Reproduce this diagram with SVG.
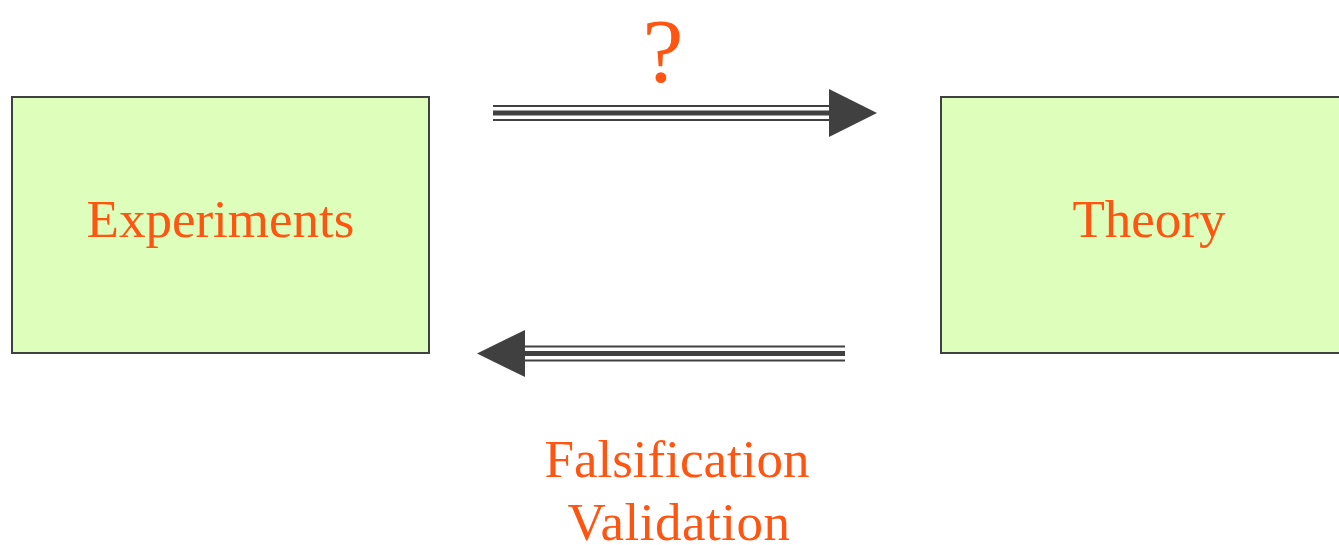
<svg xmlns="http://www.w3.org/2000/svg" width="1339" height="545" viewBox="0 0 1339 545">
<style>
.box{fill:#ddffbb;stroke:#404040;stroke-width:2}
.lbl{font-family:"Liberation Serif","Times New Roman",serif;font-size:53px;fill:#ff5511;text-anchor:middle}
.ln{stroke:#404040;fill:none}
.head{fill:#404040}
</style>
<rect width="1339" height="545" fill="#ffffff"/>
<g id="experiments">
<rect class="box" x="12" y="97" width="417" height="256"/>
<text class="lbl" x="220.5" y="237">Experiments</text>
</g>
<g id="theory">
<rect class="box" x="941" y="97" width="400" height="256"/>
<text class="lbl" x="1149" y="237">Theory</text>
</g>
<g id="connectors">
<g id="forward">
<line class="ln" x1="493" y1="106" x2="830" y2="106" stroke-width="2"/>
<line class="ln" x1="493" y1="113" x2="830" y2="113" stroke-width="5"/>
<line class="ln" x1="493" y1="120" x2="830" y2="120" stroke-width="2"/>
<polygon class="head" points="829,89 877,113 829,137"/>
<text class="lbl" x="663" y="82" style="font-size:92px">?</text>
</g>
<g id="backward">
<line class="ln" x1="523" y1="346.5" x2="845" y2="346.5" stroke-width="2"/>
<line class="ln" x1="523" y1="353.5" x2="845" y2="353.5" stroke-width="5"/>
<line class="ln" x1="523" y1="360.5" x2="845" y2="360.5" stroke-width="2"/>
<polygon class="head" points="525,330 477,353.5 525,377"/>
<text class="lbl" x="677" y="477">Falsification</text>
<text class="lbl" x="679" y="540" style="letter-spacing:0.5px">Validation</text>
</g>
</g>
</svg>
